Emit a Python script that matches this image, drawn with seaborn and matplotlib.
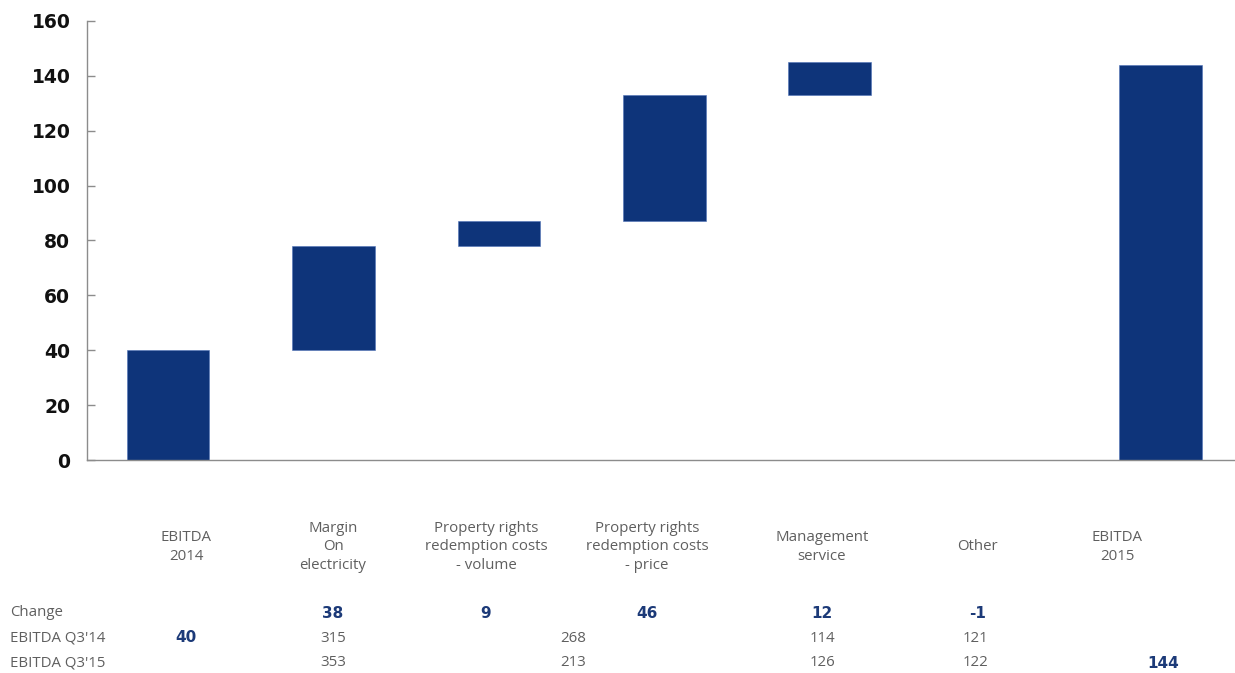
import matplotlib
matplotlib.use("Agg")
import matplotlib.pyplot as plt
import seaborn as sns
import pandas as pd
import numpy as np

# ---- data ----
categories = ["EBITDA\n2014", "Margin\nOn\nelectricity",
              "Property rights\nredemption costs\n- volume",
              "Property rights\nredemption costs\n- price",
              "Management\nservice", "Other", "EBITDA\n2015"]
changes = [40, 38, 9, 46, 12, -1, 144]
is_total = [True, False, False, False, False, False, True]
shown = [True, True, True, True, True, False, True]

row_labels = ["Change", "EBITDA Q3'14", "EBITDA Q3'15"]
change_row = ["38", "9", "46", "12", "-1"]
q314_row = ["40", "315", "268", "114", "121"]
q315_row = ["353", "213", "126", "122", "144"]
yticks = [0, 20, 40, 60, 80, 100, 120, 140, 160]

# ---- layout (pixel positions) ----
W, H = 1235, 673
label_px = [186, 333, 486, 647, 822, 977, 1117]
change_px = [333, 486, 647, 822, 978]
q314_px = [186, 333, 573, 822, 975]
q314_bold = [True, False, False, False, False]
q315_px = [333, 573, 822, 975, 1163]
q315_bold = [False, False, False, False, True]
row_py = [613, 638, 663]

BLUE = "#0e347a"
TXTBLUE = "#1c3a78"
GRAY = "#5f5f5f"

# waterfall bases
bases, heights = [], []
run = 0
for c, t in zip(changes, is_total):
    if t:
        bases.append(0); heights.append(c); run = c
    else:
        lo = min(run, run + c)
        bases.append(lo); heights.append(abs(c)); run += c

df = pd.DataFrame({"cat": categories, "height": heights, "base": bases, "shown": shown})
dshow = df[df["shown"]].reset_index(drop=True)

sns.set_theme(style="white")
plt.rcParams["font.family"] = ["DejaVu Sans"]

fig = plt.figure(figsize=(W / 100, H / 100), dpi=100)
ax = fig.add_axes([87 / W, 1 - 460 / H, (W - 87) / W, (460 - 21) / H])

sns.barplot(data=dshow, x="cat", y="height", order=categories,
            bottom=dshow["base"].to_numpy(), color=BLUE, saturation=1,
            width=0.5, edgecolor="#4f72b8", linewidth=0.4, ax=ax)

ax.set_ylim(0, 160)
ax.set_xlim(-0.49, 6.45)
ax.set_yticks(yticks)
ax.set_yticklabels([str(v) for v in yticks], fontsize=13.5, fontweight="bold", color="#111111")
ax.set_xticks([])
ax.set_xlabel("")
ax.set_ylabel("")
for s in ["top", "right"]:
    ax.spines[s].set_visible(False)
for s in ["left", "bottom"]:
    ax.spines[s].set_color("#8c8c8c")
    ax.spines[s].set_linewidth(1.0)
ax.tick_params(axis="y", direction="in", length=6, width=1, color="#8c8c8c", pad=12, left=True)

def fx(px):
    return px / W

def fy(py):
    return 1 - py / H

for lab, px in zip(categories, label_px):
    fig.text(fx(px), fy(547), lab, ha="center", va="center", multialignment="center",
             fontsize=10.8, color=GRAY, linespacing=1.3, family="Open Sans")

for lab, py in zip(row_labels, row_py):
    fig.text(fx(10), fy(py), lab, ha="left", va="center", fontsize=10.8, color=GRAY,
             family="Open Sans")

for v, px in zip(change_row, change_px):
    fig.text(fx(px), fy(row_py[0]), v, ha="center", va="center", fontsize=11,
             fontweight="bold", color=TXTBLUE)

for v, px, b in zip(q314_row, q314_px, q314_bold):
    fig.text(fx(px), fy(row_py[1]), v, ha="center", va="center",
             fontsize=11 if b else 10.8, fontweight="bold" if b else "normal",
             color=TXTBLUE if b else GRAY, family="DejaVu Sans" if b else "Open Sans")

for v, px, b in zip(q315_row, q315_px, q315_bold):
    fig.text(fx(px), fy(row_py[2]), v, ha="center", va="center",
             fontsize=11 if b else 10.8, fontweight="bold" if b else "normal",
             color=TXTBLUE if b else GRAY, family="DejaVu Sans" if b else "Open Sans")

fig.savefig("out.png", dpi=100)
